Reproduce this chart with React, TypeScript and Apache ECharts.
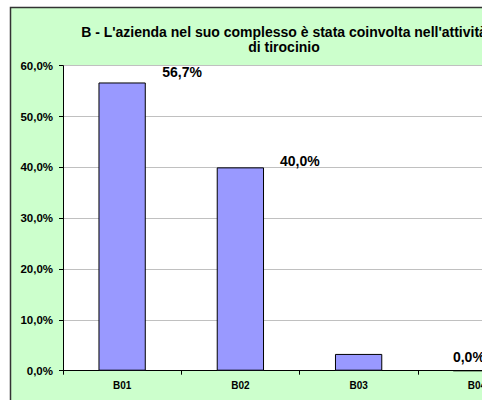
import React, { useEffect, useRef } from "react";
import * as echarts from "echarts";

const categories = ["B01", "B02", "B03", "B04"];
const values = [56.7, 40.0, 3.3, 0.0];
const showLabel = [true, true, false, true];
const labelOffsets: [number, number][] = [[60, 2], [59.5, 6], [0, 0], [-8, -1]];
const titleLines = [
  "B - L'azienda nel suo complesso è stata coinvolta nell'attività",
  "di tirocinio",
];
const yTicks = { min: 0, max: 60, interval: 10 };

const FONT = "'Liberation Sans', Arial, sans-serif";
const fmt = (v: number) => v.toFixed(1).replace(".", ",") + "%";

export default function App() {
  const ref = useRef<HTMLDivElement>(null);
  useEffect(() => {
    if (!ref.current) return;
    const chart = echarts.init(ref.current, undefined, { renderer: "svg" });
    chart.setOption({
      animation: false,
      backgroundColor: "#FFFFFF",
      graphic: [
        {
          type: "rect",
          z: -10,
          silent: true,
          shape: { x: 10.5, y: 7.5, width: 800, height: 600 },
          style: { fill: "#CCFFCC", stroke: "#333333", lineWidth: 1.5 },
        },
        ...titleLines.map((t, i) => ({
          type: "text",
          z: 10,
          x: 284,
          y: 32.4 + i * 15,
          style: {
            text: t,
            fill: "#000",
            font: `bold 14px ${FONT}`,
            textAlign: "center",
            textVerticalAlign: "middle",
          },
        })),
      ],
      grid: {
        left: 63,
        top: 65.7,
        height: 305,
        width: 473,
        show: true,
        backgroundColor: "#FFFFFF",
        borderWidth: 0,
        containLabel: false,
        outerBoundsMode: "none",
      },
      xAxis: {
        type: "category",
        data: categories,
        boundaryGap: true,
        axisLine: { show: true, lineStyle: { color: "#000", width: 1 } },
        axisTick: { show: true, inside: false, length: 4, alignWithLabel: false, lineStyle: { color: "#000" } },
        axisLabel: {
          color: "#000",
          fontWeight: "bold",
          fontSize: 10,
          fontFamily: FONT,
          margin: 10,
        },
        splitLine: { show: false },
      },
      yAxis: {
        type: "value",
        min: yTicks.min,
        max: yTicks.max,
        interval: yTicks.interval,
        axisLine: { show: true, lineStyle: { color: "#000", width: 1 } },
        axisTick: { show: true, inside: false, length: 4, lineStyle: { color: "#000" } },
        axisLabel: {
          color: "#000",
          fontWeight: "bold",
          fontSize: 11.5,
          fontFamily: FONT,
          margin: 10,
          formatter: (v: number) => fmt(v),
        },
        splitLine: { show: true, lineStyle: { color: "#C0C0C0", width: 1 } },
      },
      series: [
        {
          type: "bar",
          barWidth: "40%",
          itemStyle: { color: "#9999FF", borderColor: "#000", borderWidth: 1 },
          data: values.map((v, i) => ({
            value: v,
            label: {
              show: showLabel[i],
              position: "top",
              offset: labelOffsets[i],
              color: "#000",
              fontWeight: "bold",
              fontSize: 14,
              fontFamily: FONT,
              formatter: () => fmt(v),
            },
          })),
        },
      ],
    });
    return () => chart.dispose();
  }, []);
  return (
    <div
      ref={ref}
      style={{ position: "absolute", left: 0, top: 0, width: 482, height: 400, overflow: "hidden" }}
    />
  );
}
